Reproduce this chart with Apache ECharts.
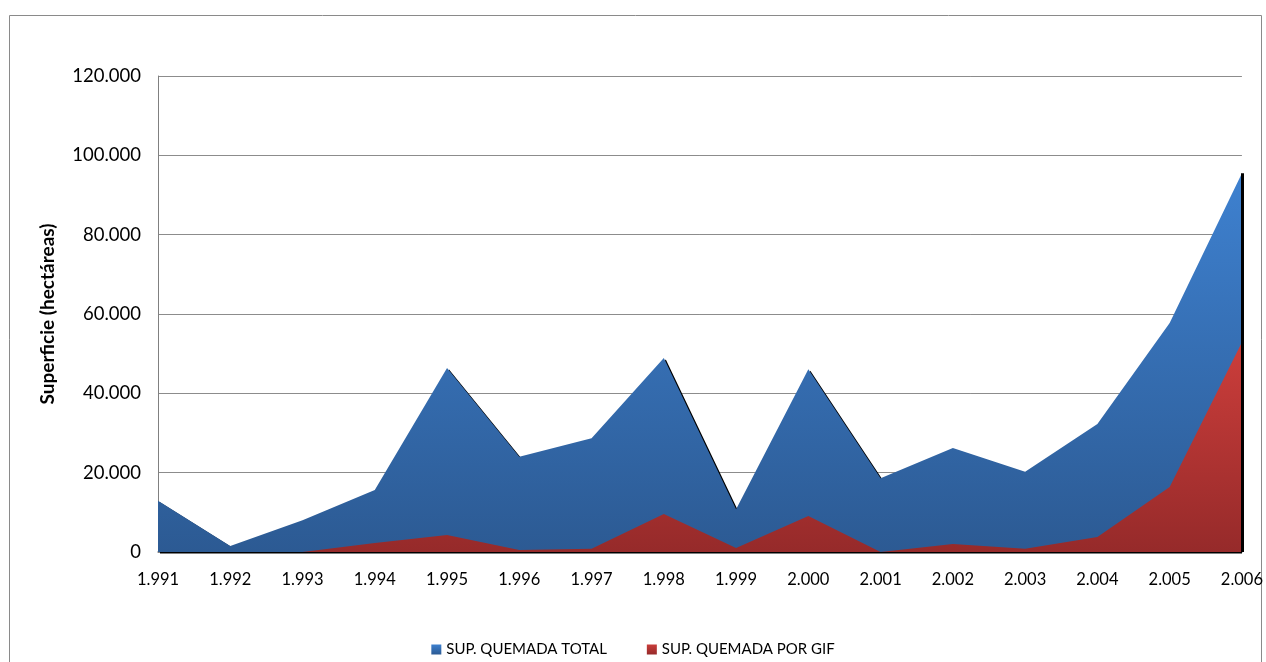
<!DOCTYPE html>
<html>
<head>
<meta charset="utf-8">
<script src="https://cdn.jsdelivr.net/npm/echarts@6/dist/echarts.min.js"></script>
<style>
html,body{margin:0;padding:0;background:#fff;}
#chart{width:1266px;height:662px;}
</style>
</head>
<body>
<div id="chart"></div>
<script>
const years = ['1.991','1.992','1.993','1.994','1.995','1.996','1.997','1.998','1.999','2.000','2.001','2.002','2.003','2.004','2.005','2.006'];
const supTotal = [12900, 1500, 8000, 15600, 46400, 24000, 28700, 48900, 10800, 46100, 18600, 26200, 20200, 32300, 57700, 95500];
const supGif = [0, 0, 0, 2300, 4300, 500, 800, 9600, 1000, 9100, 0, 2000, 800, 3800, 16400, 52900];
const yTicks = { min: 0, max: 120000, interval: 20000 };
const seriesNames = ['SUP. QUEMADA TOTAL', 'SUP. QUEMADA POR GIF'];

function fmt(v) { return String(v).replace(/\B(?=(\d{3})+(?!\d))/g, '.'); }

const lastYear = years[years.length - 1];
const lastTotal = supTotal[supTotal.length - 1];

const chart = echarts.init(document.getElementById('chart'));
const FONT = 'Lato';
chart.setOption({
  animation: false,
  backgroundColor: '#fff',
  textStyle: { fontFamily: FONT },
  graphic: [{
    type: 'rect', shape: { x: 9.5, y: 15.5, width: 1252, height: 660 },
    style: { fill: 'none', stroke: '#8a8a8a', lineWidth: 1 }, silent: true, z: -1
  }],
  grid: { left: 158, right: 21, top: 76, bottom: 110 },
  legend: {
    data: seriesNames,
    bottom: 0,
    left: 'center',
    padding: 5,
    icon: 'rect',
    itemWidth: 10, itemHeight: 10,
    itemGap: 40,
    textStyle: { fontFamily: FONT, fontSize: 15, color: '#000' }
  },
  xAxis: {
    type: 'category',
    data: years,
    boundaryGap: false,
    axisLine: { lineStyle: { color: '#808080', width: 1.5 } },
    axisTick: { show: false },
    axisLabel: { fontFamily: FONT, fontSize: 16.5, color: '#000', margin: 19 },
    splitLine: { show: false }
  },
  yAxis: {
    type: 'value',
    min: yTicks.min, max: yTicks.max, interval: yTicks.interval,
    name: 'Superficie (hectáreas)',
    nameLocation: 'middle',
    nameGap: 101,
    nameTextStyle: { fontFamily: FONT, fontSize: 19, fontWeight: 'bold', color: '#000' },
    axisLine: { show: true, lineStyle: { color: '#808080' } },
    axisTick: { show: false },
    axisLabel: { fontFamily: FONT, fontSize: 18.5, color: '#000', margin: 17, formatter: fmt },
    splitLine: { lineStyle: { color: '#8c8c8c', width: 1 } }
  },
  series: [{
    name: seriesNames[0],
    type: 'line',
    data: supTotal,
    symbol: 'none',
    clip: false,
    itemStyle: { color: new echarts.graphic.LinearGradient(0, 0, 0, 1, [{ offset: 0, color: '#3d80cf' }, { offset: 1, color: '#2c5a93' }]) },
    lineStyle: { width: 0 },
    areaStyle: {
      opacity: 1,
      color: new echarts.graphic.LinearGradient(0, 0, 0, 1, [{ offset: 0, color: '#3e81d0' }, { offset: 1, color: '#2c5a93' }]),
      shadowColor: 'rgba(0,0,0,1)', shadowBlur: 0, shadowOffsetX: 2, shadowOffsetY: 1.5
    },
    z: 2
  }, {
    name: seriesNames[1],
    type: 'line',
    data: supGif,
    symbol: 'none',
    itemStyle: { color: new echarts.graphic.LinearGradient(0, 0, 0, 1, [{ offset: 0, color: '#c93d3a' }, { offset: 1, color: '#962a2a' }]) },
    lineStyle: { width: 0 },
    areaStyle: {
      opacity: 1,
      color: new echarts.graphic.LinearGradient(0, 0, 0, 1, [{ offset: 0, color: '#cc3e3b' }, { offset: 1, color: '#962a2a' }])
    },
    markLine: {
      silent: true,
      symbol: 'none',
      label: { show: false },
      lineStyle: { color: '#000', width: 3, type: 'solid' },
      data: [[{ coord: [lastYear, 0] }, { coord: [lastYear, lastTotal] }]]
    },
    z: 3
  }]
});
</script>
</body>
</html>
